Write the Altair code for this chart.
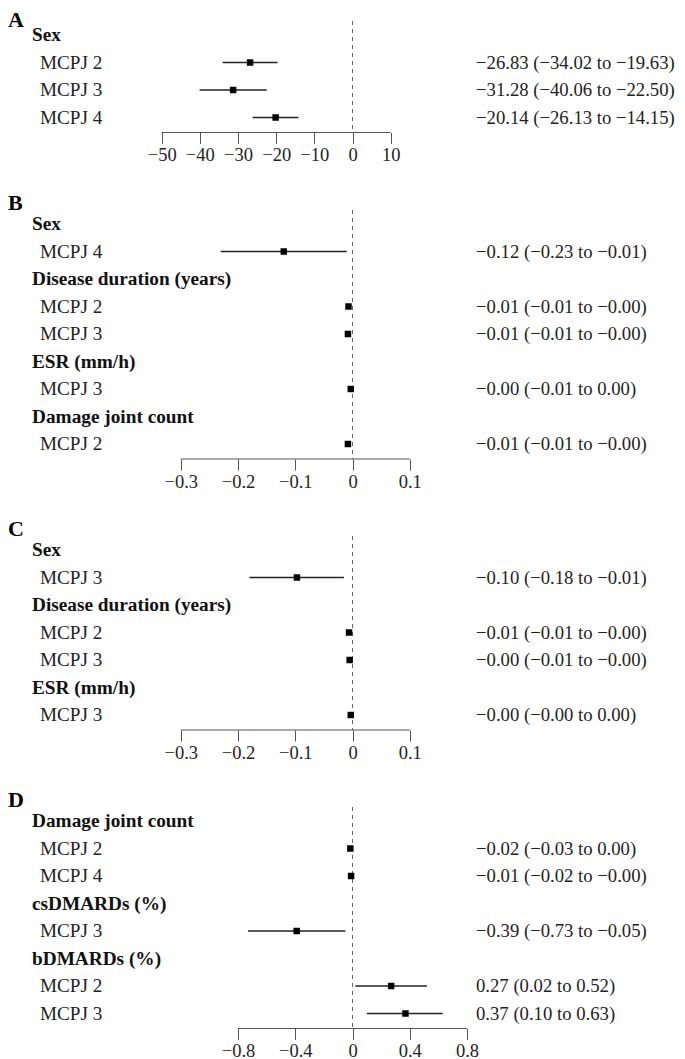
import altair as alt
import pandas as pd

# ---------------- data ----------------
A_labels = ["Sex", "MCPJ 2", "MCPJ 3", "MCPJ 4"]
A_header = [True, False, False, False]
A_est = [None, -26.83, -31.28, -20.14]
A_lo = [None, -34.02, -40.06, -26.13]
A_hi = [None, -19.63, -22.50, -14.15]
A_text = ["", "−26.83 (−34.02 to −19.63)", "−31.28 (−40.06 to −22.50)", "−20.14 (−26.13 to −14.15)"]
A_ticks = [-50, -40, -30, -20, -10, 0, 10]

B_labels = ["Sex", "MCPJ 4", "Disease duration (years)", "MCPJ 2", "MCPJ 3",
            "ESR (mm/h)", "MCPJ 3", "Damage joint count", "MCPJ 2"]
B_header = [True, False, True, False, False, True, False, True, False]
B_est = [None, -0.12, None, -0.007, -0.008, None, -0.003, None, -0.008]
B_lo = [None, -0.23, None, -0.010, -0.011, None, -0.006, None, -0.011]
B_hi = [None, -0.01, None, -0.004, -0.005, None, 0.000, None, -0.004]
B_text = ["", "−0.12 (−0.23 to −0.01)", "", "−0.01 (−0.01 to −0.00)", "−0.01 (−0.01 to −0.00)",
          "", "−0.00 (−0.01 to 0.00)", "", "−0.01 (−0.01 to −0.00)"]
B_ticks = [-0.3, -0.2, -0.1, 0, 0.1]

C_labels = ["Sex", "MCPJ 3", "Disease duration (years)", "MCPJ 2", "MCPJ 3", "ESR (mm/h)", "MCPJ 3"]
C_header = [True, False, True, False, False, True, False]
C_est = [None, -0.097, None, -0.006, -0.005, None, -0.003]
C_lo = [None, -0.18, None, -0.009, -0.008, None, -0.004]
C_hi = [None, -0.015, None, -0.003, -0.002, None, -0.001]
C_text = ["", "−0.10 (−0.18 to −0.01)", "", "−0.01 (−0.01 to −0.00)", "−0.00 (−0.01 to −0.00)",
          "", "−0.00 (−0.00 to 0.00)"]
C_ticks = [-0.3, -0.2, -0.1, 0, 0.1]

D_labels = ["Damage joint count", "MCPJ 2", "MCPJ 4", "csDMARDs (%)", "MCPJ 3",
            "bDMARDs (%)", "MCPJ 2", "MCPJ 3"]
D_header = [True, False, False, True, False, True, False, False]
D_est = [None, -0.015, -0.01, None, -0.39, None, 0.27, 0.37]
D_lo = [None, -0.03, -0.02, None, -0.73, None, 0.02, 0.10]
D_hi = [None, 0.00, -0.002, None, -0.05, None, 0.52, 0.63]
D_text = ["", "−0.02 (−0.03 to 0.00)", "−0.01 (−0.02 to −0.00)", "", "−0.39 (−0.73 to −0.05)",
          "", "\u00a00.27 (0.02 to 0.52)", "\u00a00.37 (0.10 to 0.63)"]
D_ticks = [-0.8, -0.4, 0, 0.4, 0.8]

# ---------------- layout / style ----------------
W = 660            # plot width (px)
ZERO_PX = 344.5    # pixel position of x = 0 inside the plot
AXIS_SPAN = 229.0  # pixel span of the tick range
ROW = 27.5         # px per row
EDGE_TOP = 14.0    # px above first row
EDGE_BOT = 15.0    # px below last row
SERIF = "Liberation Serif"


def panel(letter, labels, header, est, lo, hi, text, ticks, letter_row=-0.75):
    n = len(labels)
    df = pd.DataFrame({
        "row": list(range(n)), "label": labels, "header": header,
        "est": est, "lo": lo, "hi": hi, "text": text,
    })
    k = AXIS_SPAN / (ticks[-1] - ticks[0])
    xdom = [-ZERO_PX / k, (W - ZERO_PX) / k]
    ydom = [-EDGE_TOP / ROW, n - 1 + EDGE_BOT / ROW]
    H = ROW * (n - 1) + EDGE_TOP + EDGE_BOT

    xs = alt.Scale(domain=xdom, nice=False, zero=False)
    ys = alt.Scale(domain=ydom, reverse=True, nice=False, zero=False)
    y = alt.Y("row:Q", scale=ys, axis=None)

    pts = df[df["est"].notna()].copy()
    heads = df[df["header"]].copy()
    items = df[~df["header"]].copy()

    zero_line = alt.Chart(pd.DataFrame({"z": [0.0], "row": [ydom[0]], "row2": [ydom[1]]})).mark_rule(
        color="#666", strokeDash=[4, 4], strokeWidth=1
    ).encode(
        x=alt.X("z:Q", scale=xs,
                axis=alt.Axis(values=ticks, format="~f", domain=False, grid=False,
                              ticks=True, tickSize=11, tickColor="#555", tickWidth=1,
                              labelFont=SERIF, labelFontSize=18.5, labelColor="#222",
                              labelPadding=2, title=None, labelFlush=False,
                              labelOverlap=False)),
        y=y, y2="row2:Q",
    )
    axis_line = alt.Chart(pd.DataFrame({"a": [ticks[0]], "b": [ticks[-1]], "row": [ydom[1]]})).mark_rule(
        color="#555", strokeWidth=1
    ).encode(x=alt.X("a:Q", scale=xs), x2="b:Q", y=y)

    ci = alt.Chart(pts).mark_rule(color="#222", strokeWidth=1.5).encode(
        x=alt.X("lo:Q", scale=xs), x2="hi:Q", y=y)
    sq = alt.Chart(pts).mark_point(shape="square", filled=True, size=42, color="#000",
                                   opacity=1).encode(x=alt.X("est:Q", scale=xs), y=y)

    head_txt = alt.Chart(heads).mark_text(
        align="left", baseline="middle", font=SERIF, fontSize=19.3, fontWeight="bold",
        color="#111"
    ).encode(x=alt.value(24), y=y, text="label:N")
    item_txt = alt.Chart(items).mark_text(
        align="left", baseline="middle", font=SERIF, fontSize=19.2, color="#222"
    ).encode(x=alt.value(32), y=y, text="label:N")
    ci_txt = alt.Chart(pts).mark_text(
        align="left", baseline="middle", font=SERIF, fontSize=18.7, color="#222"
    ).encode(x=alt.value(468), y=y, text="text:N")

    letter_df = pd.DataFrame({"letter": [letter], "row": [letter_row]})
    let = alt.Chart(letter_df).mark_text(
        align="left", baseline="middle", font=SERIF, fontSize=22, fontWeight="bold",
        color="#000"
    ).encode(x=alt.value(0), y=y, text="letter:N")

    return alt.layer(zero_line, axis_line, ci, sq, head_txt, item_txt, ci_txt, let).properties(
        width=W, height=H)


chart = alt.vconcat(
    panel("A", A_labels, A_header, A_est, A_lo, A_hi, A_text, A_ticks, letter_row=-0.55),
    panel("B", B_labels, B_header, B_est, B_lo, B_hi, B_text, B_ticks),
    panel("C", C_labels, C_header, C_est, C_lo, C_hi, C_text, C_ticks),
    panel("D", D_labels, D_header, D_est, D_lo, D_hi, D_text, D_ticks),
    spacing=77, bounds="flush",
).properties(padding=0, background="white").configure_view(strokeWidth=0, stroke=None)

chart.save("out.html", embed_options={"renderer": "svg", "actions": False})
